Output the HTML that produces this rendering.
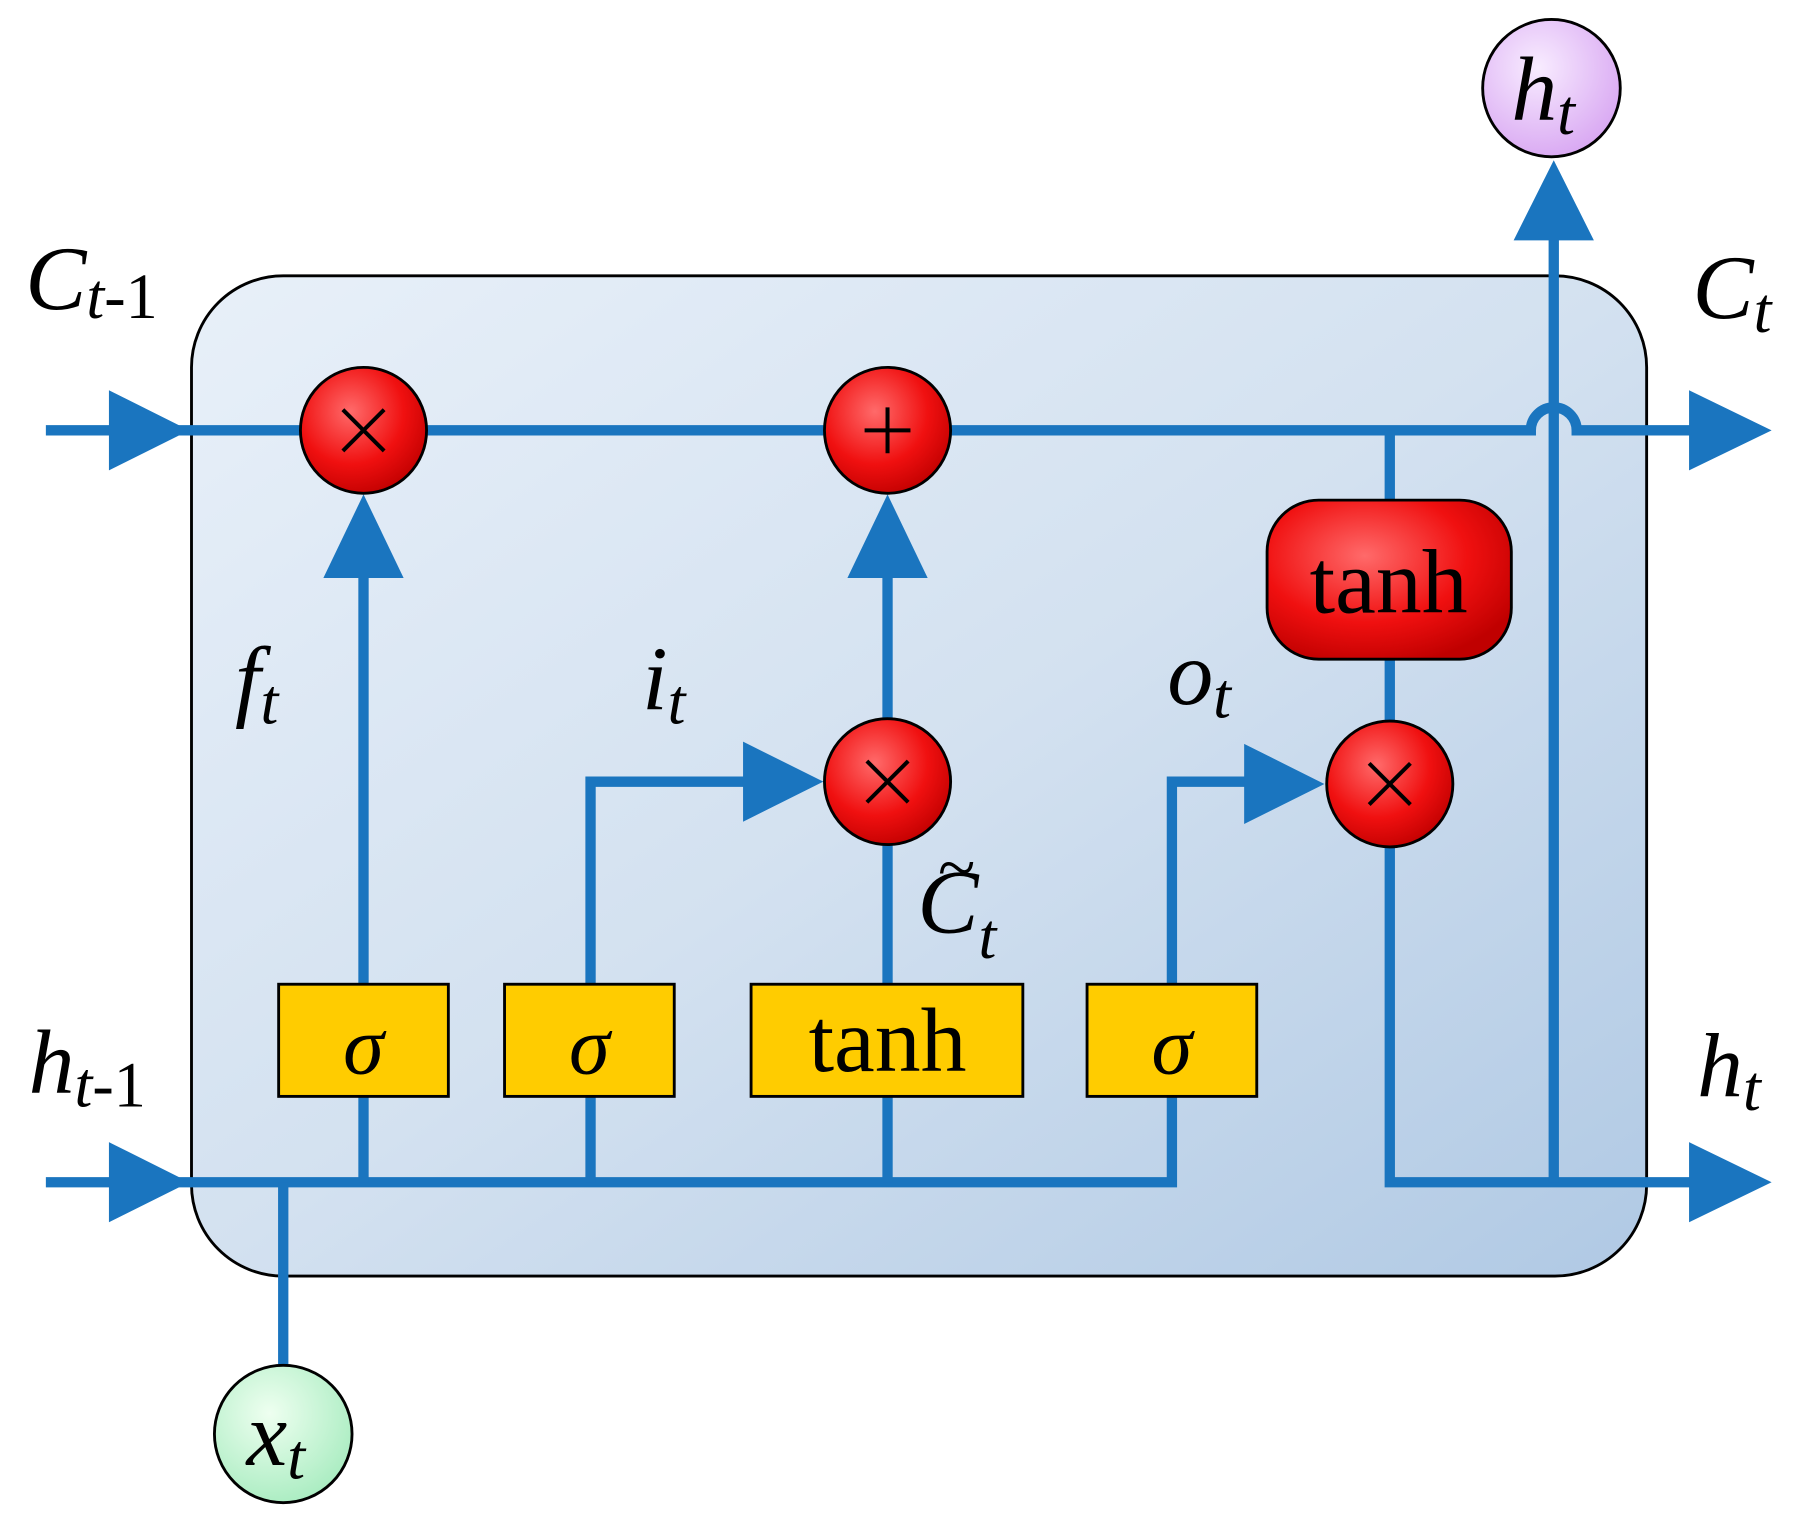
<!DOCTYPE html>
<html><head><meta charset="utf-8"><style>
html,body{margin:0;padding:0;background:#fff;}
svg{display:block;}
text{font-family:"Liberation Serif",serif;}
</style></head><body>
<svg width="1798" height="1529" viewBox="0 0 1568 1336" preserveAspectRatio="none" xmlns="http://www.w3.org/2000/svg">
<defs>
<linearGradient id="bg" x1="0" y1="0" x2="1" y2="1">
<stop offset="0" stop-color="#e8f0f9"/><stop offset="0.5" stop-color="#d3e1f0"/><stop offset="1" stop-color="#b0c9e4"/>
</linearGradient>
<radialGradient id="red" cx="0.4" cy="0.35" r="0.7">
<stop offset="0" stop-color="#ff6a6a"/><stop offset="0.6" stop-color="#f01010"/><stop offset="1" stop-color="#c00000"/>
</radialGradient>
<radialGradient id="purple" cx="0.4" cy="0.35" r="0.7">
<stop offset="0" stop-color="#f8ecff"/><stop offset="1" stop-color="#d8a6f2"/>
</radialGradient>
<radialGradient id="green" cx="0.4" cy="0.35" r="0.7">
<stop offset="0" stop-color="#eefff0"/><stop offset="1" stop-color="#a8ecc0"/>
</radialGradient>
</defs>
<rect x="167" y="241" width="1269" height="874" rx="80" fill="url(#bg)" stroke="#000" stroke-width="2.5"/>
<g stroke="#1a75bf" stroke-width="9" fill="none">
<path d="M40 376 H1335 A20 20 0 0 1 1375 376 H1480"/>
<path d="M40 1033 H1022 V958"/>
<path d="M1212 740 V1033 H1480"/>
<path d="M1355 1033 V205"/>
<path d="M247 1033 V1192"/>
<path d="M317 860 V505 M317 958 V1033"/>
<path d="M774 628 V505 M774 860 V738 M774 958 V1033"/>
<path d="M515 860 V683 H650 M515 958 V1033"/>
<path d="M1022 860 V683 H1088"/>
<path d="M1212 376 V437 M1212 576 V630"/>
</g>
<g fill="#1a75bf">
<polygon points="95,341 165,376 95,411"/>
<polygon points="95,998 165,1033 95,1068"/>
<polygon points="1473,341 1545,376 1473,411"/>
<polygon points="1473,998 1545,1033 1473,1068"/>
<polygon points="1320,210 1355,140 1390,210"/>
<polygon points="282,505 317,432 352,505"/>
<polygon points="739,505 774,432 809,505"/>
<polygon points="648,648 718,683 648,718"/>
<polygon points="1085,650 1155,685 1085,720"/>
</g>
<g stroke="#000" stroke-width="2.5">
<circle cx="317" cy="376" r="55" fill="url(#red)"/>
<circle cx="774" cy="376" r="55" fill="url(#red)"/>
<circle cx="774" cy="683" r="55" fill="url(#red)"/>
<circle cx="1212" cy="685" r="55" fill="url(#red)"/>
<rect x="1105" y="437" width="213" height="139" rx="45" fill="url(#red)"/>
<circle cx="1353" cy="77" r="60" fill="url(#purple)"/>
<circle cx="247" cy="1253" r="60" fill="url(#green)"/>
<rect x="243" y="860" width="148" height="98" fill="#ffcc00"/>
<rect x="440" y="860" width="148" height="98" fill="#ffcc00"/>
<rect x="655" y="860" width="237" height="98" fill="#ffcc00"/>
<rect x="948" y="860" width="148" height="98" fill="#ffcc00"/>
</g>
<g stroke="#000" stroke-width="3.5">
<path d="M299 358 L335 394 M335 358 L299 394"/>
<path d="M756 665 L792 701 M792 665 L756 701"/>
<path d="M1194 667 L1230 703 M1230 667 L1194 703"/>
<path d="M774 356 V396 M754 376 H794"/>
</g>
<g fill="#000" font-size="72">
<text x="317" y="938" text-anchor="middle" font-style="italic">σ</text>
<text x="514" y="938" text-anchor="middle" font-style="italic">σ</text>
<text x="1022" y="938" text-anchor="middle" font-style="italic">σ</text>
<text x="774" y="936" text-anchor="middle" font-size="80">tanh</text>
<text x="1211" y="535" text-anchor="middle" font-size="80">tanh</text>
<text x="22" y="270" font-size="80" font-style="italic">C<tspan font-size="56" dy="8">t</tspan><tspan font-size="56" font-style="normal">-1</tspan></text>
<text x="1476" y="278" font-size="80" font-style="italic">C<tspan font-size="56" dy="12">t</tspan></text>
<text x="25" y="955" font-size="80" font-style="italic">h<tspan font-size="56" dy="12">t</tspan><tspan font-size="56" font-style="normal">-1</tspan></text>
<text x="1480" y="958" font-size="80" font-style="italic">h<tspan font-size="56" dy="12">t</tspan></text>
<text x="1318" y="105" font-size="80" font-style="italic">h<tspan font-size="56" dy="12">t</tspan></text>
<text x="215" y="1280" font-size="80" font-style="italic">x<tspan font-size="56" dy="12">t</tspan></text>
<text x="205" y="620" font-size="80" font-style="italic">f<tspan font-size="56" dy="12">t</tspan></text>
<text x="560" y="620" font-size="80" font-style="italic">i<tspan font-size="56" dy="12">t</tspan></text>
<text x="1018" y="615" font-size="80" font-style="italic">o<tspan font-size="56" dy="12">t</tspan></text>
<text x="800" y="815" font-size="80" font-style="italic">C<tspan font-size="56" dy="22">t</tspan></text>
<text x="818" y="778" font-size="60">~</text>
</g>
</svg>
</body></html>
